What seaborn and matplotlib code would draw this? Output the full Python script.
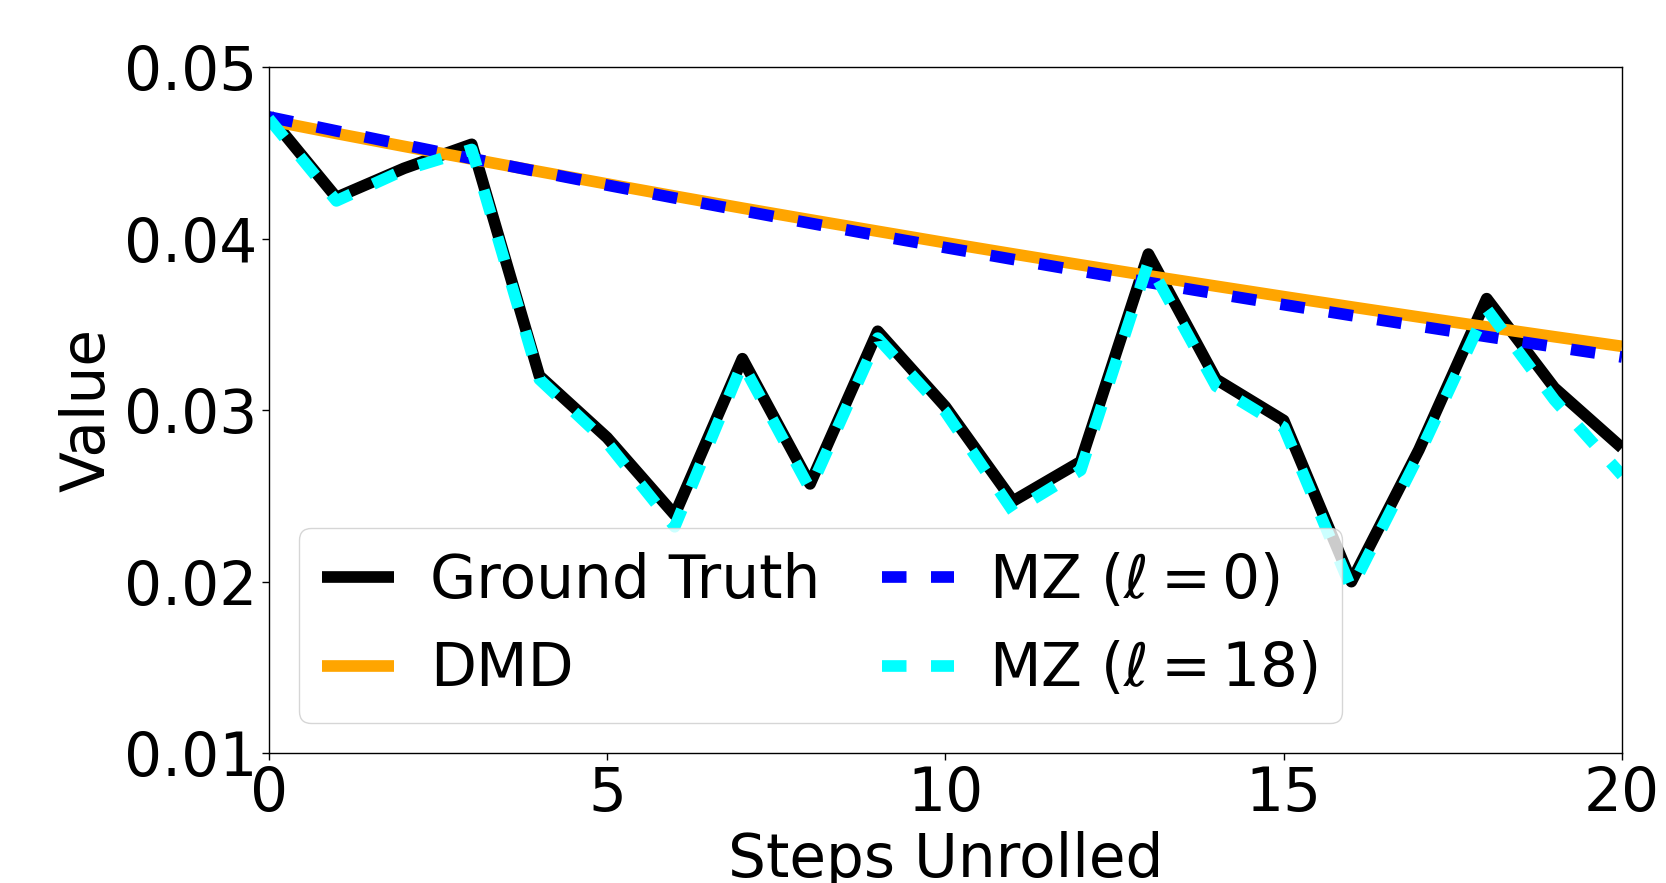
import numpy as np
import pandas as pd
import matplotlib
matplotlib.use("Agg")
import matplotlib.pyplot as plt
import seaborn as sns

steps = list(range(21))
ground_truth = [0.0472, 0.0424, 0.0441, 0.0455, 0.0320, 0.0284, 0.0239, 0.0330, 0.0257, 0.0346,
                0.0302, 0.0247, 0.0270, 0.0391, 0.0318, 0.0294, 0.0200, 0.0277, 0.0365, 0.0313, 0.0278]
dmd = [0.04690, 0.04613, 0.04538, 0.04464, 0.04391, 0.04319, 0.04248, 0.04178, 0.04110, 0.04043,
       0.03976, 0.03911, 0.03847, 0.03784, 0.03723, 0.03662, 0.03602, 0.03543, 0.03485, 0.03428, 0.03372]
mz_l0 = [0.04710, 0.04628, 0.04547, 0.04467, 0.04389, 0.04312, 0.04237, 0.04163, 0.04090, 0.04018,
         0.03948, 0.03879, 0.03811, 0.03745, 0.03679, 0.03615, 0.03552, 0.03490, 0.03429, 0.03369, 0.03310]
mz_l18 = [0.0470, 0.0422, 0.0440, 0.0452, 0.0318, 0.0281, 0.0232, 0.0327, 0.0254, 0.0342,
          0.0299, 0.0241, 0.0265, 0.0386, 0.0314, 0.0290, 0.0196, 0.0274, 0.0359, 0.0306, 0.0262]

labels = ["Ground Truth", "DMD", r"MZ ($\ell = 0$)", r"MZ ($\ell = 18$)"]
colors = ["black", "orange", "blue", "cyan"]
xticks = [0, 5, 10, 15, 20]
yticks = [0.01, 0.02, 0.03, 0.04, 0.05]

sns.set_style("ticks")
plt.rcParams["font.family"] = ["DejaVu Sans"]
plt.rcParams["mathtext.fontset"] = "dejavusans"
plt.rcParams["text.color"] = "black"
plt.rcParams["axes.labelcolor"] = "black"

fig, ax = plt.subplots(figsize=(16.66, 8.83), dpi=100)
fig.subplots_adjust(left=0.1613, right=0.9736, top=0.924, bottom=0.147)

fs = 43
lw = 8.4
dash = (0, (2.1, 2.1))
common = dict(solid_capstyle="butt", dash_capstyle="butt", solid_joinstyle="round")
sns.lineplot(x=steps, y=ground_truth, ax=ax, color=colors[0], lw=lw, label=labels[0], **common)
sns.lineplot(x=steps, y=dmd, ax=ax, color=colors[1], lw=lw, label=labels[1], **common)
sns.lineplot(x=steps, y=mz_l0, ax=ax, color=colors[2], lw=lw, linestyle=dash, label=labels[2], **common)
sns.lineplot(x=steps, y=mz_l18, ax=ax, color=colors[3], lw=lw, linestyle=dash, label=labels[3], **common)

ax.set_xlim(0, 20)
ax.set_ylim(0.01, 0.05)
ax.set_xticks(xticks)
ax.set_yticks(yticks)
ax.set_xticklabels([str(t) for t in xticks])
ax.set_yticklabels([f"{t:.2f}" for t in yticks])
ax.tick_params(labelsize=fs, colors="black", length=5, width=1)
for s in ax.spines.values():
    s.set_visible(True)
    s.set_color("black")
    s.set_linewidth(1.0)
ax.set_xlabel("Steps Unrolled", fontsize=fs, labelpad=5, color="black")
ax.set_ylabel("Value", fontsize=fs, color="black")

leg = ax.legend(loc="lower left", ncol=2, fontsize=fs, handlelength=1.2,
                columnspacing=1.03, labelspacing=0.5, borderpad=0.4, handletextpad=0.6)
leg.get_frame().set_edgecolor("#cccccc")
for t in leg.get_texts():
    t.set_color("black")

fig.savefig("out.png", dpi=100)
